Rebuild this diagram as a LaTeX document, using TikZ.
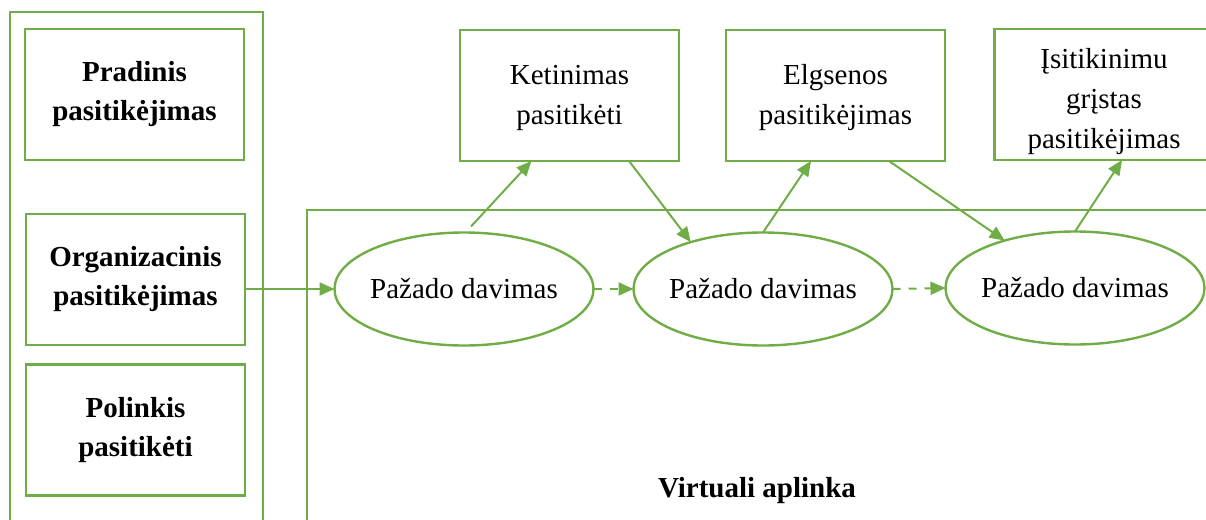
\documentclass[tikz,border=0pt]{standalone}
\usepackage{fontspec}
\setmainfont{Liberation Serif}
\usetikzlibrary{shapes.geometric,arrows.meta}
\definecolor{leafgreen}{HTML}{70AD47}
\tikzset{
  txt/.style={font=\fontsize{29}{40}\selectfont, align=center, text=black},
  boldtxt/.style={font=\fontsize{29}{39}\selectfont\bfseries},
  tbox/.style={txt, draw=leafgreen, line width=2.8pt, rectangle, outer sep=0pt,
    inner sep=0pt, minimum width=219pt, minimum height=131pt},
  promise/.style={txt, draw=leafgreen, line width=2.4pt, ellipse, outer sep=0pt,
    inner sep=0pt, minimum width=259pt, minimum height=113pt},
  frame/.style={draw=leafgreen, line width=2.8pt},
  link/.style={draw=leafgreen, line width=2pt,
    -{Triangle[length=15pt,width=13pt]}},
  dashlink/.style={link, dash pattern=on 8pt off 8pt}
}
\newcommand{\promisetext}{\makebox[0pt]{Pažado davimas}}
\begin{document}
\begin{tikzpicture}[x=1pt,y=-1pt]
\useasboundingbox (0,0) rectangle (1206,519);

% outer frames
\draw[frame] (10,540) -- (10,12) -- (263,12) -- (263,540);
\draw[frame] (307,540) -- (307,210) -- (1230,210);

% left column
\node[tbox, boldtxt] (pra) at (134.5,94.5) {Pradinis\\pasitikėjimas};
\node[tbox, boldtxt] (org) at (135.5,279.5) {Organizacinis\\pasitikėjimas};
\node[tbox, boldtxt] (pol) at (135.5,430) {Polinkis\\pasitikėti};

% upper row
\node[tbox] (ket) at (569.5,95.5) {\rule{0pt}{24pt}Ketinimas\\pasitikėti};
\node[tbox] (elg) at (835.5,95.5) {\rule{0pt}{24pt}Elgsenos\\pasitikėjimas};
\node[tbox] (isi) at (1104,94.5) {\rule{0pt}{34pt}Įsitikinimu\\grįstas\\pasitikėjimas};

% promises
\node[promise] (e1) at (464,289) {\promisetext};
\node[promise] (e2) at (763,289) {\promisetext};
\node[promise] (e3) at (1075,288) {\promisetext};

\node[txt, boldtxt] (virt) at (757,491) {Virtuali aplinka};

% connectors
\draw[link] (org.east |- e1.west) -- (e1.west);
\draw[dashlink] (e1.east) -- (e2.west);
\draw[dashlink] (e2.east) -- (e3.west);
\draw[link] ([xshift=7pt,yshift=6pt]e1.north) -- ([xshift=-38pt]ket.south);
\draw[link] ([xshift=59.5pt]ket.south) -- (e2.147);
\draw[link] (e2.north) -- ([xshift=-24.5pt]elg.south);
\draw[link] ([xshift=53.5pt]elg.south) -- (e3.146);
\draw[link] (e3.north) -- ([xshift=18pt]isi.south);
\end{tikzpicture}
\end{document}
